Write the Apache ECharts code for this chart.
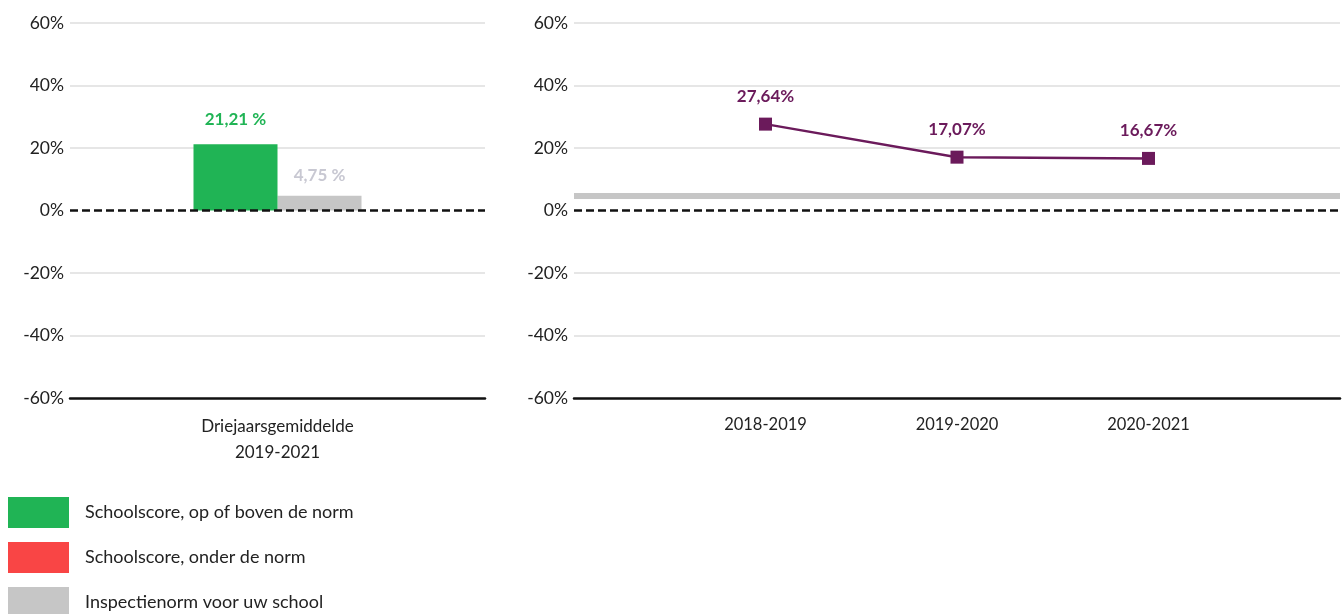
<!DOCTYPE html>
<html>
<head>
<meta charset="utf-8">
<script src="https://cdn.jsdelivr.net/npm/echarts@6/dist/echarts.min.js"></script>
<style>html,body{margin:0;padding:0;background:#fff}#c{width:1343px;height:614px}</style>
</head>
<body>
<div id="c"></div>
<script>
const barCategories = ['Driejaarsgemiddelde\n2019-2021'];
const schoolScore = [21.21];
const normScore = [4.75];
const years = ['', '2018-2019', '2019-2020', '2020-2021', ''];
const yearScores = [null, 27.64, 17.07, 16.67, null];
const normLevel = 4.75;
const yMin = -60, yMax = 60, yStep = 20;

const names = {
  above: 'Schoolscore, op of boven de norm',
  below: 'Schoolscore, onder de norm',
  norm: 'Inspectienorm voor uw school'
};
const FONT = 'Lato, "Noto Sans", sans-serif';
const fmt = (v, sp) => v.toFixed(2).replace('.', ',') + (sp ? ' %' : '%');
const splitColors = [];
for (let v = yMin; v <= yMax; v += yStep) {
  splitColors.push(v === yMin || v === 0 ? 'rgba(0,0,0,0)' : '#e6e6e6');
}
const yAxisBase = (gi) => ({
  type: 'value', gridIndex: gi, min: yMin, max: yMax, interval: yStep,
  axisLine: { show: false }, axisTick: { show: false },
  axisLabel: { formatter: '{value}%', color: '#222', fontSize: 17.5, fontFamily: FONT, margin: 6 },
  splitLine: { lineStyle: { color: splitColors, width: 2 } }
});
const xAxisLine = { show: true, onZero: false, lineStyle: { color: '#111', width: 2.5 } };
const dash = { color: '#111', width: 2.5, type: [8, 4] };

const chart = echarts.init(document.getElementById('c'));
chart.setOption({
  animation: false,
  grid: [
    { left: 70, right: 858, top: 23, bottom: 216 },
    { left: 574, right: 0, top: 23, bottom: 216 }
  ],
  xAxis: [
    { type: 'category', gridIndex: 0, data: barCategories, axisLine: xAxisLine, axisTick: { show: false },
      axisLabel: { color: '#222', fontSize: 17, fontFamily: FONT, lineHeight: 26, margin: 16 } },
    { type: 'category', gridIndex: 1, data: years, boundaryGap: false, axisLine: xAxisLine, axisTick: { show: false },
      axisLabel: { color: '#222', fontSize: 16.5, fontFamily: FONT, margin: 18, interval: 0 } }
  ],
  yAxis: [yAxisBase(0), yAxisBase(1)],
  legend: {
    orient: 'vertical', left: 8, top: 497, height: 140, padding: 0, icon: 'rect',
    itemWidth: 61, itemHeight: 31, itemGap: 14,
    data: [names.above, names.below, names.norm],
    textStyle: { fontSize: 18, color: '#222', fontFamily: FONT, padding: [0, 0, 0, 11] },
    selectedMode: false
  },
  series: [
    { name: names.above, type: 'bar', xAxisIndex: 0, yAxisIndex: 0, data: schoolScore,
      barWidth: 84, barGap: '0%', itemStyle: { color: '#20b455' },
      label: { show: true, position: 'top', distance: 16, color: '#20b455', fontWeight: 'bold', fontSize: 17, fontFamily: FONT,
        formatter: p => fmt(p.value, true) },
      markLine: { silent: true, symbol: 'none', label: { show: false }, lineStyle: dash, data: [{ yAxis: 0 }] }, z: 2 },
    { name: names.norm, type: 'bar', xAxisIndex: 0, yAxisIndex: 0, data: normScore,
      barWidth: 84, barGap: '0%', itemStyle: { color: '#c6c6c6' },
      label: { show: true, position: 'top', distance: 12, color: '#c8c8d2', fontWeight: 'bold', fontSize: 17, fontFamily: FONT,
        formatter: p => fmt(p.value, true) }, z: 1 },
    { name: names.below, type: 'line', xAxisIndex: 0, yAxisIndex: 0, data: [], itemStyle: { color: '#f94545' } },
    { name: 'Schoolscore per jaar', type: 'line', xAxisIndex: 1, yAxisIndex: 1, data: yearScores,
      symbol: 'rect', symbolSize: 13, lineStyle: { color: '#6b1a5b', width: 2.5 }, itemStyle: { color: '#6b1a5b' },
      label: { show: true, position: 'top', distance: 13, color: '#6b1a5b', fontWeight: 'bold', fontSize: 17, fontFamily: FONT,
        formatter: p => fmt(p.value, false) },
      markLine: {
        silent: true, symbol: 'none', label: { show: false },
        data: [
          { yAxis: normLevel, lineStyle: { color: '#c6c6c6', width: 6, type: 'solid' } },
          { yAxis: 0, lineStyle: dash }
        ]
      }, z: 3 }
  ]
});
</script>
</body>
</html>
